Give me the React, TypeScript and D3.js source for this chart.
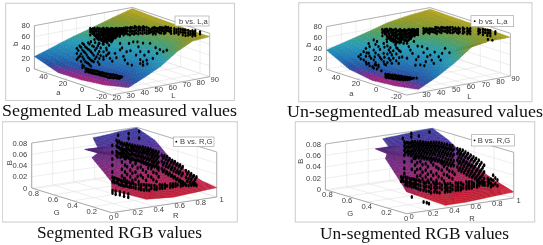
import * as d3 from "d3";

type Cols = [number, number, number[]][];
type Node = [number, number, number];

const labTicksL = [20, 30, 40, 50, 60, 70, 80, 90];
const labTicksA = [-20, 0, 20, 40];
const labTicksB = [0, 20, 40, 60, 80];
const rgbTicksR = [0, 0.2, 0.4, 0.6, 0.8, 1];
const rgbTicksG = [0, 0.2, 0.4, 0.6, 0.8];
const rgbTicksB = [0, 0.02, 0.04, 0.06, 0.08];

const captions = [
  "Segmented Lab measured values",
  "Un-segmentedLab measured values",
  "Segmented RGB values",
  "Un-segmented RGB values",
];

// surface control nodes [L, a, b], back row first
const segLabSurface: Node[][] = [
  [[20, 50, 23], [34, 50, 35], [48, 50, 47], [62, 50, 57], [76, 50, 68], [90, 50, 78]],
  [[23, 30, 4], [36, 30, 25], [49, 30, 38], [63, 30, 50], [76, 30, 62], [90, 30, 76]],
  [[26, 10, 1], [39, 10, 18], [51, 10, 30], [64, 10, 44], [77, 10, 58], [90, 10, 75]],
  [[29, -10, 2], [41, -10, 13], [53, -10, 26], [65, -10, 42], [78, -10, 58], [90, -10, 74]],
  [[32, -30, 8], [44, -30, 22], [55, -30, 36], [67, -30, 58], [78, -30, 72], [90, -30, 74]],
];
const unsegLabSurface: Node[][] = [
  [[20, 50, 36], [34, 50, 46], [48, 50, 56], [62, 50, 67], [76, 50, 73], [90, 50, 77]],
  [[22, 30, 11], [36, 30, 32], [50, 30, 45], [63, 30, 56], [77, 30, 68], [90, 30, 76]],
  [[24, 10, 1], [37, 10, 22], [50, 10, 35], [64, 10, 48], [77, 10, 63], [90, 10, 75]],
  [[26, -10, 2], [39, -10, 16], [51, -10, 30], [64, -10, 46], [77, -10, 63], [90, -10, 74]],
  [[28, -30, 6.5], [40, -30, 23], [52, -30, 43], [64, -30, 68], [77, -30, 73], [90, -30, 72.5]],
];
// surface control nodes [R, G, B]
const segRgbSurface: Node[][] = [
  [[0.56, 0.8, 0.075], [0.71, 0.81, 0.076], [0.85, 0.82, 0.078], [1, 0.825, 0.079]],
  [[0.557, 0.744, 0.06], [0.7, 0.7, 0.063], [0.85, 0.66, 0.066], [1, 0.636, 0.067]],
  [[0.5, 0.82, 0.055], [0.66, 0.7, 0.052], [0.83, 0.57, 0.048], [1, 0.48, 0.043]],
  [[0.571, 0.759, 0.05], [0.71, 0.63, 0.045], [0.85, 0.5, 0.04], [1, 0.38, 0.035]],
  [[0.43, 0.67, 0.05], [0.62, 0.53, 0.04], [0.81, 0.4, 0.032], [1, 0.275, 0.027]],
  [[0.23, 0.25, 0.035], [0.5, 0.2, 0.028], [0.75, 0.16, 0.023], [1, 0.14, 0.02]],
  [[0.231, 0.25, 0.02], [0.33, 0, 0.0145], [0.587, 0, 0.0113], [1, 0, 0.0166]],
];
const unsegRgbSurface: Node[][] = [
  [[0.53, 0.82, 0.075], [0.69, 0.82, 0.077], [0.85, 0.825, 0.079], [1, 0.825, 0.08]],
  [[0.576, 0.806, 0.06], [0.72, 0.76, 0.063], [0.86, 0.71, 0.066], [1, 0.66, 0.0675]],
  [[0.5, 0.86, 0.056], [0.67, 0.72, 0.052], [0.84, 0.57, 0.046], [1, 0.42, 0.039]],
  [[0.544, 0.79, 0.05], [0.69, 0.65, 0.044], [0.85, 0.5, 0.037], [1, 0.33, 0.031]],
  [[0.428, 0.68, 0.05], [0.62, 0.53, 0.04], [0.81, 0.37, 0.03], [1, 0.22, 0.0228]],
  [[0.12, 0.16, 0.035], [0.42, 0.13, 0.027], [0.72, 0.1, 0.02], [1, 0.08, 0.015]],
  [[0.22, 0.24, 0.02], [0.361, 0, 0.0047], [0.548, 0, 0.005], [1, 0, 0.0105]],
];

// measured points as [L, a, [b...]]
const segLabDots: Cols = [
  [53, 40, [65, 59, 53]], [54.5, 40, [61, 55]], [56, 40, [64, 57, 51, 43]], [57.5, 40, [60, 53, 46]],
  [59, 40, [60, 54, 48, 41, 34]], [60.5, 40, [57, 50, 43]], [62, 40, [59, 53, 47, 39, 32]],
  [63.5, 40, [56, 50, 43, 36]], [65, 40, [58, 53, 46, 40, 34]], [66.5, 40, [55, 49, 42]],
  [68, 40, [58, 52, 46, 39, 33]], [69.5, 40, [54, 48, 41]], [71, 40, [56, 52, 45, 39]],
  [72.5, 40, [53, 48, 42]], [74, 40, [55, 51, 46, 40]], [75.5, 40, [52, 47]], [77, 40, [54, 49, 44]],
  [63, 20, [72, 66, 60]], [66, 20, [72, 66.5, 60]], [69, 20, [71, 65, 60]], [72, 20, [70, 65, 59]],
  [75, 20, [68, 63.5, 58]], [78, 20, [67, 62, 57]],
  [74, 10, [73, 68, 64]], [76, 10, [71, 66]], [78, 10, [73, 68, 63]], [80, 10, [70, 65]],
  [82, 10, [71, 66, 61]], [84, 10, [69, 64]], [86, 10, [70, 64, 59]], [88, 10, [68, 62]], [90, 10, [66, 61, 56]],
  [82, -5, [77.5, 73, 69]], [85, -5, [76, 71, 66]], [88, -5, [73, 68, 63]], [90, -5, [71, 66, 61]],
  [85, -15, [79, 74, 70]], [88, -15, [77, 72, 67]], [90, -15, [76, 71, 67]], [90, -20, [77, 73]],
  [40, 35, [37.5, 28, 17]], [42, 35, [41, 22]], [44, 35, [45, 32.5, 20, 5, 0]], [46, 35, [37.5, 26.5, 10]],
  [48, 35, [44, 32, 17, 6]], [50, 35, [45, 26.5, 11, 0]], [52, 35, [35, 19, 7]], [54, 35, [31, 15]],
  [56, 35, [39, 24, 11, 0]],
  [22, 0, [30, 24]], [24, 0, [27.5, 22.5]], [26, 0, [25, 20]], [28, 0, [23, 18]], [30, 0, [21.5, 16]],
  [32, 0, [18.6, 13.7]], [34, 0, [16.5, 11.5]], [36, 0, [14, 9]], [38, 0, [12, 6]], [40, 0, [10, 5]],
  [42, 0, [9, 3]], [44, 0, [7, 2]], [46, 0, [4, 0]], [48, 0, [2]],
  [44, 10, [47.5]], [46.4, 10, [31]], [50, 10, [38.5]], [53.6, 10, [55, 43]], [57, 10, [23]],
  [62, 10, [11]], [66.7, 10, [42.5]], [70, 10, [13, 7, 47.7]], [72.6, 10, [15]], [80, 10, [24]],
  [84.5, 10, [25]], [63, 10, [53.5]], [58.3, 10, [37.5]], [41.7, 10, [36]], [75, 10, [45]], [68, 10, [11]],
  [87, 10, [26.5]],
];
const segLabFill: Cols = [
  [53.4, 40, [63, 60.7]], [54.9, 40, [64, 58]], [55.8, 40, [62, 54]], [56.7, 40, [60.5, 49.5]], [57.2, 40, [58, 48]],
  [58.1, 40, [63, 50.5, 44]], [58.9, 40, [57, 45.5]], [59.6, 40, [61.5, 51, 42]], [60.1, 40, [55, 45]],
  [60.9, 40, [60, 49, 39]], [61.4, 40, [54, 41.5]], [62.3, 40, [61, 50, 44, 36]], [62.8, 40, [56, 48, 37]],
  [63.2, 40, [59, 51, 41]], [64.1, 40, [57, 52, 44, 38]], [64.7, 40, [60, 47, 35]], [65.3, 40, [55, 49, 43, 32]],
  [65.9, 40, [58, 51, 37]], [66.2, 40, [53, 46, 41]], [67.1, 40, [57, 50, 44, 36]], [67.7, 40, [54, 47, 38]],
  [68.4, 40, [56, 49, 42, 34]], [69.1, 40, [57, 51, 44, 37]], [69.8, 40, [52, 46, 39]], [70.4, 40, [55, 49, 43]],
  [71.3, 40, [54, 47, 41]], [71.9, 40, [56, 50, 43]], [72.8, 40, [51, 45]], [73.2, 40, [54, 48]],
  [74.3, 40, [53, 47, 43]], [75.1, 40, [54, 49, 45]], [76.1, 40, [53, 50]], [76.8, 40, [51, 46]],
  [62, 20, [70, 64]], [64.5, 20, [73, 68, 62]], [65, 20, [70, 64]], [67.5, 20, [70, 63.5, 58]], [68, 20, [72, 67]],
  [70.5, 20, [69, 63, 58]], [71, 20, [72, 62]], [73.5, 20, [68, 62, 57]], [74, 20, [70, 65]],
  [76.5, 20, [67, 61, 56]], [77, 20, [69, 64]], [79.5, 20, [66, 60, 55]],
  [75, 10, [70, 65]], [77, 10, [72, 66, 61]], [79, 10, [71, 65, 60]], [81, 10, [69, 63]], [83, 10, [70, 65, 60]],
  [85, 10, [68, 62, 58]], [87, 10, [68, 63]], [89, 10, [65, 60]],
  [83.5, -5, [75, 70]], [86.5, -5, [74, 69]], [89, -5, [72, 67]], [86.5, -15, [76, 71]], [89, -15, [74, 70]],
  [41, 35, [33, 20]], [43, 35, [38, 26, 12]], [45, 35, [42, 29, 15, 2]], [47, 35, [35, 22, 8]],
  [49, 35, [41, 30, 14, 3]], [51, 35, [37, 23, 9]], [53, 35, [42, 28, 12]], [55, 35, [35, 20, 5]],
  [57, 35, [30, 16]], [59, 35, [36, 22, 8]], [61, 35, [28, 14]], [63, 35, [32, 18]],
  [23, 0, [29, 25]], [25, 0, [26, 22]], [27, 0, [24, 19]], [29, 0, [22, 17]], [31, 0, [20, 15]], [33, 0, [17, 12]],
  [35, 0, [15, 10]], [37, 0, [13, 8]], [39, 0, [11, 5]], [41, 0, [9, 4]], [43, 0, [7, 3]], [45, 0, [5, 1]], [47, 0, [3, 1]],
  [48, 10, [25]], [51, 10, [30]], [55, 10, [46]], [59, 10, [15]], [61, 10, [38]], [65, 10, [28]], [68, 10, [18, 33]],
  [71, 10, [25]], [74, 10, [30]], [77, 10, [16]], [79, 10, [35]], [82, 10, [30]], [60, 10, [52]], [56, 10, [30]],
  [45, 10, [40]], [66, 10, [52]], [73, 10, [8]],
];
const unsegLabDots: Cols = [
  [51, 40, [65, 59, 53]], [52.5, 40, [62, 56]], [54, 40, [64, 58, 51, 45]], [55.5, 40, [61, 54, 48]],
  [57, 40, [62, 56, 48, 41]], [58.5, 40, [59, 52, 45, 38]], [60, 40, [61, 54, 47, 39, 33]],
  [61.5, 40, [57, 50, 43, 36]], [63, 40, [59, 52, 44, 37]], [64.5, 40, [55, 48, 41]],
  [66, 40, [57, 51, 44, 36]], [67.5, 40, [54, 48, 41, 35]], [69, 40, [56, 50, 44, 37]],
  [70.5, 40, [53, 47, 41]], [72, 40, [54, 49, 43]], [73.5, 40, [52, 46]], [75, 40, [53, 48, 43]],
  [72, 30, [62.5, 57.5, 53]], [74, 30, [61, 56]], [76, 30, [60, 56, 51]], [78, 30, [58, 53]],
  [80, 30, [60, 55, 50]], [82, 30, [58, 52]], [84, 30, [58, 53, 48]], [86, 30, [56, 50]],
  [88, 30, [56, 51, 46]], [90, 30, [55, 50, 45]],
  [78, 10, [73, 68, 63]], [80, 10, [71, 66]], [82, 10, [70, 65, 60]], [85, 10, [68.5, 63.5, 58.5]],
  [88, 10, [66, 61, 56]], [90, 10, [65, 60, 55]],
  [82, -10, [80, 76, 71]], [85, -10, [78, 73, 68]], [88, -10, [75, 70, 65]], [90, -10, [73, 68, 63]],
  [90, -15, [74, 70]], [85, -15, [62]], [88, -15, [59]],
  [31.6, 35, [27]], [35, 35, [34.5, 19]], [38.4, 35, [48, 30, 11]], [41.8, 35, [53, 34, 15.4, 0]],
  [45, 35, [39, 23, 4.4, 1]], [48.5, 35, [43, 24.5, 9]], [52, 35, [29, 13.4]], [44, 35, [49]],
  [50.7, 35, [45]], [40, 35, [19.4]], [43.4, 35, [5]], [47, 35, [14]], [50, 35, [2]], [54, 35, [3, 18.6]],
  [24, 10, [27]], [27, 10, [21]], [30, 10, [16]],
  [26, 0, [18, 13]], [27.5, 0, [17, 12]], [29, 0, [15, 10]], [30.5, 0, [14, 8]], [32, 0, [13, 6.5]],
  [33.5, 0, [11, 5]], [35, 0, [10, 4]], [36.5, 0, [9, 3]], [38, 0, [7, 1]], [39.5, 0, [6, 1]],
  [41, 0, [4.4, 0]], [42.5, 0, [3, 0]], [44, 0, [1]], [47, 0, [0]],
  [39.5, 10, [60]], [43, 10, [45.5]], [45, 10, [60]], [47.3, 10, [31, 59]], [49.6, 10, [45]], [52, 10, [60]],
  [55, 10, [30]], [57.5, 10, [47.5]], [60, 10, [18]], [63, 10, [29]], [65.4, 10, [12]], [68.7, 10, [23]],
  [73, 10, [36.5]], [53, 10, [15]], [56.3, 10, [14]], [41.7, 10, [24]],
];
const unsegLabFill: Cols = [
  [51.4, 40, [63, 60.5]], [52.9, 40, [64, 58]], [53.8, 40, [62, 54]], [54.7, 40, [60.5, 49]], [55.2, 40, [58, 47]],
  [56.1, 40, [63, 50.5, 44]], [56.9, 40, [57, 44.5]], [57.6, 40, [60.5, 51, 42]], [58.1, 40, [55, 43]],
  [58.9, 40, [60, 49, 39]], [59.4, 40, [54, 41.5]], [60.3, 40, [59, 50, 44, 36]], [60.8, 40, [56, 48, 37]],
  [62.2, 40, [58, 51, 41]], [62.7, 40, [55, 47, 38, 34]], [63.6, 40, [57, 49, 42, 35]], [64.1, 40, [53, 45, 39]],
  [65.2, 40, [56, 49, 43]], [65.8, 40, [53, 46, 38]], [66.7, 40, [55, 49, 43, 37]], [67.1, 40, [52, 46]],
  [68.2, 40, [55, 48, 42, 35]], [69.7, 40, [54, 47, 41]], [70.2, 40, [51, 44, 38]], [71.1, 40, [55, 49, 42]],
  [71.8, 40, [52, 46]], [72.7, 40, [53, 47, 42]], [73.2, 40, [50, 44]], [74.3, 40, [53, 48, 44]], [74.9, 40, [50, 46]],
  [73, 30, [60, 55]], [75, 30, [58, 53]], [77, 30, [59, 54]], [79, 30, [57, 52]], [81, 30, [59, 53, 48]],
  [83, 30, [56, 50]], [85, 30, [57, 51]], [87, 30, [55, 49]], [89, 30, [54, 48]],
  [79, 10, [70, 64]], [81, 10, [68, 62]], [83, 10, [68, 62]], [86, 10, [66, 60]], [89, 10, [63, 58]],
  [83, -10, [78, 73]], [86.5, -10, [76, 71]], [89, -10, [74, 69]],
  [33, 35, [30, 22]], [36.5, 35, [40, 25, 14]], [39, 35, [42, 24, 6]], [43, 35, [44, 28, 10]], [46, 35, [33, 18]],
  [49, 35, [36, 17, 4]], [51, 35, [37, 22, 6]], [53, 35, [33, 24, 9]], [55, 35, [26, 12]], [57, 35, [31, 19, 6]],
  [59, 35, [24, 11]], [37, 35, [31, 10]], [42.5, 35, [21, 6]],
  [26.7, 0, [16, 11]], [28.2, 0, [16, 10]], [29.8, 0, [13, 9]], [31.2, 0, [12, 7]], [32.8, 0, [12, 7]], [34.2, 0, [9, 5]],
  [35.7, 0, [8, 3]], [37.2, 0, [7, 3]], [38.8, 0, [5, 2]], [40.2, 0, [4, 1]], [41.8, 0, [3, 1]], [43.2, 0, [2, 1]],
  [45, 0, [1]],
  [41, 10, [52]], [44, 10, [35]], [48.5, 10, [52]], [51, 10, [38]], [53.5, 10, [25]], [54.5, 10, [50]], [58.5, 10, [36]],
  [61, 10, [27, 42]], [64, 10, [19]], [66, 10, [33]], [70, 10, [16]], [71, 10, [28]], [76, 10, [27]], [59, 10, [11]],
];
// measured points as [R, G, [B...]]
const segRgbDots: Cols = [
  [0.56, 0.6, [0.072, 0.06, 0.048, 0.0366, 0.0247]],
  [0.6, 0.6, [0.08, 0.07, 0.06, 0.053]], [0.625, 0.6, [0.077, 0.066, 0.056]],
  [0.65, 0.6, [0.074, 0.065, 0.058, 0.052]], [0.675, 0.6, [0.072, 0.061, 0.054, 0.047]],
  [0.7, 0.6, [0.071, 0.063, 0.056, 0.048]], [0.725, 0.6, [0.069, 0.059, 0.051, 0.044]],
  [0.75, 0.6, [0.067, 0.06, 0.053, 0.043]], [0.775, 0.6, [0.065, 0.057, 0.049, 0.04]],
  [0.8, 0.6, [0.064, 0.056, 0.048, 0.04]], [0.825, 0.6, [0.062, 0.054, 0.045, 0.037]],
  [0.85, 0.6, [0.061, 0.053, 0.045, 0.036]], [0.875, 0.6, [0.059, 0.051, 0.042, 0.033]],
  [0.9, 0.6, [0.057, 0.05, 0.04, 0.03]], [0.925, 0.6, [0.055, 0.047, 0.038, 0.028]],
  [0.95, 0.6, [0.052, 0.045, 0.036, 0.026]], [0.975, 0.6, [0.05, 0.042, 0.033, 0.024]],
  [1, 0.6, [0.048, 0.04, 0.03, 0.021]],
  [0.8, 0.35, [0.061, 0.05, 0.037]], [0.825, 0.35, [0.059, 0.047, 0.034]], [0.85, 0.35, [0.057, 0.045, 0.03]],
  [0.875, 0.35, [0.053, 0.041, 0.027]], [0.9, 0.35, [0.049, 0.037, 0.0225]], [0.925, 0.35, [0.046, 0.034, 0.019]],
  [0.95, 0.35, [0.042, 0.03, 0.015]], [0.975, 0.35, [0.039, 0.027, 0.012]], [1, 0.35, [0.035, 0.023, 0.008]],
  [0.8, 0.1, [0.047, 0.035, 0.021]], [0.825, 0.1, [0.044, 0.032, 0.02]], [0.85, 0.1, [0.04, 0.03, 0.0196]],
  [0.875, 0.1, [0.036, 0.025, 0.019]], [0.9, 0.1, [0.033, 0.018]],
  [0.1, 0.1, [0.055, 0.047, 0.031, 0.0267]], [0.12, 0.1, [0.053, 0.045]], [0.14, 0.1, [0.051, 0.044]],
  [0.13, 0.1, [0.029, 0.024]], [0.16, 0.1, [0.049, 0.041]], [0.18, 0.1, [0.047, 0.039]],
  [0.17, 0.1, [0.0267, 0.022]], [0.2, 0.1, [0.045, 0.037]], [0.22, 0.1, [0.043, 0.036]],
  [0.21, 0.1, [0.024, 0.018]], [0.24, 0.1, [0.042, 0.035]], [0.26, 0.1, [0.041, 0.033]], [0.25, 0.1, [0.021, 0.015]],
  [0.28, 0.1, [0.039, 0.032]], [0.3, 0.1, [0.038, 0.031]], [0.35, 0.1, [0.0347, 0.0276]], [0.375, 0.1, [0.034, 0.026]],
  [0.4, 0.1, [0.033, 0.024]], [0.425, 0.1, [0.032, 0.023]], [0.45, 0.1, [0.031, 0.022]], [0.5, 0.1, [0.029, 0.023]],
  [0.55, 0.1, [0.029, 0.023]], [0.575, 0.1, [0.028, 0.022]], [0.6, 0.1, [0.028, 0.0225]], [0.65, 0.1, [0.027, 0.022]],
  [0.675, 0.1, [0.027, 0.022]], [0.7, 0.1, [0.0267, 0.022]], [0.75, 0.1, [0.0265, 0.021]],
  [0.45, 0.35, [0.065, 0.053, 0.041, 0.029]], [0.5, 0.35, [0.0575, 0.043, 0.031]], [0.55, 0.35, [0.053, 0.038, 0.025]],
  [0.6, 0.35, [0.046, 0.031]], [0.65, 0.35, [0.05, 0.0356, 0.021]], [0.7, 0.35, [0.04, 0.025]],
  [0.75, 0.35, [0.0447, 0.03, 0.016]],
  [0.8, 0.8, [0.0727]], [0.9, 0.8, [0.073, 0.064]], [1, 0.8, [0.074, 0.062]],
];
const segRgbFill: Cols = [
  [0.61, 0.6, [0.075, 0.068, 0.058, 0.05]], [0.638, 0.6, [0.073, 0.063, 0.055, 0.049]],
  [0.662, 0.6, [0.07, 0.062, 0.056, 0.05]], [0.688, 0.6, [0.068, 0.06, 0.052, 0.045]],
  [0.712, 0.6, [0.067, 0.061, 0.053, 0.046]], [0.738, 0.6, [0.064, 0.057, 0.05, 0.041]],
  [0.762, 0.6, [0.063, 0.058, 0.05, 0.042]], [0.788, 0.6, [0.061, 0.054, 0.046, 0.038]],
  [0.812, 0.6, [0.06, 0.052, 0.046, 0.038]], [0.838, 0.6, [0.058, 0.05, 0.042, 0.034]],
  [0.862, 0.6, [0.056, 0.05, 0.041, 0.032]], [0.888, 0.6, [0.054, 0.047, 0.038, 0.03]],
  [0.912, 0.6, [0.053, 0.045, 0.036, 0.027]], [0.938, 0.6, [0.05, 0.042, 0.033, 0.024]],
  [0.962, 0.6, [0.048, 0.04, 0.031, 0.023]], [0.988, 0.6, [0.045, 0.037, 0.028, 0.02]],
  [0.812, 0.35, [0.056, 0.044, 0.032]], [0.838, 0.35, [0.053, 0.04, 0.028]], [0.862, 0.35, [0.05, 0.038, 0.025]],
  [0.888, 0.35, [0.046, 0.034, 0.022]], [0.912, 0.35, [0.043, 0.03, 0.018]], [0.938, 0.35, [0.04, 0.027, 0.014]],
  [0.962, 0.35, [0.036, 0.024, 0.011]], [0.988, 0.35, [0.033, 0.02, 0.009]],
  [0.812, 0.1, [0.041, 0.028]], [0.838, 0.1, [0.037, 0.025]], [0.862, 0.1, [0.034, 0.023]], [0.888, 0.1, [0.029, 0.021]],
  [0.11, 0.1, [0.05]], [0.15, 0.1, [0.047]], [0.19, 0.1, [0.043]], [0.23, 0.1, [0.04]], [0.27, 0.1, [0.037]],
  [0.32, 0.1, [0.035, 0.029]], [0.37, 0.1, [0.031, 0.0255]], [0.42, 0.1, [0.028]], [0.47, 0.1, [0.03, 0.025]],
  [0.52, 0.1, [0.026, 0.022]], [0.57, 0.1, [0.026]], [0.62, 0.1, [0.025]], [0.67, 0.1, [0.0245]], [0.72, 0.1, [0.024]],
  [0.77, 0.1, [0.025, 0.022]], [0.79, 0.1, [0.024]],
  [0.42, 0.35, [0.06, 0.047, 0.035]], [0.47, 0.35, [0.05, 0.036, 0.024]], [0.52, 0.35, [0.063, 0.05, 0.037, 0.024]],
  [0.57, 0.35, [0.045, 0.03]], [0.62, 0.35, [0.055, 0.04, 0.026]], [0.67, 0.35, [0.042, 0.028]],
  [0.72, 0.35, [0.05, 0.033, 0.02]], [0.77, 0.35, [0.036, 0.024]], [0.44, 0.35, [0.03]], [0.58, 0.35, [0.02]],
];
const unsegRgbDots: Cols = [
  [0.53, 0.6, [0.0806, 0.0736, 0.066, 0.0572, 0.0456, 0.0339, 0.0251]], [0.555, 0.6, [0.079, 0.071, 0.063]],
  [0.58, 0.6, [0.0763, 0.0688, 0.0606]], [0.605, 0.6, [0.079, 0.072, 0.064, 0.056]],
  [0.63, 0.6, [0.078, 0.071, 0.0633, 0.0546]], [0.655, 0.6, [0.077, 0.07, 0.062, 0.053]],
  [0.68, 0.6, [0.0765, 0.0695, 0.062, 0.0532]], [0.705, 0.6, [0.075, 0.068, 0.06, 0.05]],
  [0.73, 0.6, [0.074, 0.067, 0.0588, 0.0489]], [0.755, 0.6, [0.073, 0.066, 0.057, 0.047]],
  [0.78, 0.6, [0.0726, 0.065, 0.0563, 0.0457]], [0.805, 0.6, [0.072, 0.064, 0.055, 0.044]],
  [0.83, 0.6, [0.0713, 0.0637, 0.0549, 0.0432]], [0.855, 0.6, [0.07, 0.062, 0.052, 0.041]],
  [0.88, 0.6, [0.068, 0.0605, 0.0506, 0.0389]], [0.905, 0.6, [0.066, 0.058, 0.048, 0.036]],
  [0.93, 0.6, [0.065, 0.0568, 0.0463, 0.0346]], [0.955, 0.6, [0.063, 0.055, 0.044, 0.032]],
  [0.98, 0.6, [0.0613, 0.0532, 0.042, 0.0304]],
  [0.75, 0.3, [0.078, 0.0693, 0.0577, 0.046]], [0.775, 0.3, [0.076, 0.067, 0.055, 0.043]],
  [0.8, 0.3, [0.0736, 0.0648, 0.0532, 0.0415]], [0.825, 0.3, [0.07, 0.061, 0.05, 0.038]],
  [0.85, 0.3, [0.0666, 0.0578, 0.0461, 0.0345]], [0.875, 0.3, [0.063, 0.054, 0.043, 0.031]],
  [0.9, 0.3, [0.0594, 0.0506, 0.039, 0.0273]], [0.925, 0.3, [0.056, 0.046, 0.034, 0.023]],
  [0.95, 0.3, [0.052, 0.0403, 0.0286, 0.0187]], [0.975, 0.3, [0.047, 0.035, 0.023, 0.014]],
  [1, 0.3, [0.042, 0.0304, 0.0187, 0.0099]],
  [0.9, 0.1, [0.0374, 0.0286, 0.0199]], [0.85, 0.1, [0.033, 0.027, 0.021]],
  [0.04, 0.1, [0.058, 0.0505]], [0.06, 0.1, [0.057, 0.05]], [0.08, 0.1, [0.057, 0.049, 0.0435]],
  [0.1, 0.1, [0.055, 0.047, 0.041]], [0.12, 0.1, [0.053, 0.046, 0.04]], [0.14, 0.1, [0.052, 0.044, 0.038]],
  [0.16, 0.1, [0.0507, 0.043, 0.0373]], [0.18, 0.1, [0.049, 0.042, 0.035]], [0.2, 0.1, [0.048, 0.0403, 0.0333]],
  [0.25, 0.1, [0.0435, 0.0365, 0.029]], [0.275, 0.1, [0.042, 0.035, 0.027]], [0.3, 0.1, [0.041, 0.0334, 0.0258]],
  [0.35, 0.1, [0.038, 0.031, 0.0234]], [0.375, 0.1, [0.037, 0.03, 0.022]], [0.4, 0.1, [0.0365, 0.0295, 0.0207]],
  [0.45, 0.1, [0.035, 0.028, 0.0205]], [0.475, 0.1, [0.034, 0.027, 0.0205]], [0.5, 0.1, [0.0338, 0.0268, 0.0203]],
  [0.55, 0.1, [0.0335, 0.0265, 0.0207]], [0.575, 0.1, [0.033, 0.026, 0.0205]], [0.6, 0.1, [0.0321, 0.0251, 0.0204]],
  [0.65, 0.1, [0.0325, 0.0255, 0.0209]], [0.675, 0.1, [0.032, 0.025, 0.021]], [0.7, 0.1, [0.0312, 0.0254, 0.0207]],
  [0.75, 0.1, [0.031, 0.0251, 0.021]], [0.8, 0.1, [0.0296, 0.0238]],
  [0.4, 0.35, [0.0676, 0.056, 0.0442]], [0.45, 0.35, [0.0613, 0.0485, 0.0368]], [0.5, 0.35, [0.056, 0.0444, 0.0327]],
  [0.55, 0.35, [0.0576, 0.04, 0.0272]], [0.6, 0.35, [0.0473, 0.0356, 0.024]], [0.65, 0.35, [0.052, 0.0403, 0.0257]],
  [0.7, 0.35, [0.0418, 0.0301]], [0.75, 0.35, [0.0345, 0.0228]],
  [0.78, 0.8, [0.078, 0.0722]], [0.85, 0.8, [0.0721]], [0.95, 0.8, [0.0763]], [0.7, 0.8, [0.0716]],
  [0.14, 0.1, [0.0203]], [0.25, 0.1, [0.0085]], [0.3, 0.1, [0.0041]], [0.28, 0.1, [0.0064]],
];
const unsegRgbFill: Cols = [
  [0.54, 0.6, [0.077, 0.069, 0.061]], [0.567, 0.6, [0.078, 0.072, 0.065, 0.057]], [0.592, 0.6, [0.077, 0.07, 0.062, 0.055]],
  [0.617, 0.6, [0.075, 0.068, 0.059, 0.05]], [0.642, 0.6, [0.074, 0.067, 0.058, 0.05]], [0.667, 0.6, [0.073, 0.066, 0.058, 0.049]],
  [0.692, 0.6, [0.072, 0.064, 0.056, 0.048]], [0.717, 0.6, [0.071, 0.063, 0.055, 0.046]], [0.742, 0.6, [0.07, 0.063, 0.054, 0.045]],
  [0.767, 0.6, [0.069, 0.061, 0.052, 0.043]], [0.792, 0.6, [0.068, 0.06, 0.051, 0.042]], [0.817, 0.6, [0.067, 0.06, 0.05, 0.04]],
  [0.842, 0.6, [0.066, 0.058, 0.048, 0.038]], [0.867, 0.6, [0.064, 0.056, 0.046, 0.036]], [0.892, 0.6, [0.062, 0.054, 0.044, 0.034]],
  [0.917, 0.6, [0.06, 0.052, 0.041, 0.031]], [0.942, 0.6, [0.058, 0.05, 0.039, 0.029]], [0.967, 0.6, [0.057, 0.048, 0.037, 0.027]],
  [0.992, 0.6, [0.055, 0.046, 0.035, 0.026]],
  [0.762, 0.3, [0.073, 0.062, 0.052, 0.04]], [0.787, 0.3, [0.07, 0.06, 0.049, 0.037]], [0.812, 0.3, [0.067, 0.056, 0.046, 0.034]],
  [0.837, 0.3, [0.064, 0.052, 0.042, 0.03]], [0.862, 0.3, [0.06, 0.048, 0.038, 0.027]], [0.887, 0.3, [0.056, 0.045, 0.034, 0.024]],
  [0.912, 0.3, [0.053, 0.042, 0.03, 0.021]], [0.937, 0.3, [0.048, 0.036, 0.025, 0.017]], [0.962, 0.3, [0.044, 0.032, 0.021, 0.012]],
  [0.987, 0.3, [0.038, 0.026, 0.015]],
  [0.86, 0.1, [0.03, 0.024]], [0.88, 0.1, [0.031, 0.024, 0.018]], [0.92, 0.1, [0.032, 0.022]], [0.94, 0.1, [0.028, 0.018]],
  [0.05, 0.1, [0.054]], [0.09, 0.1, [0.052, 0.045]], [0.13, 0.1, [0.049, 0.042]], [0.17, 0.1, [0.046, 0.04]],
  [0.22, 0.1, [0.045, 0.038, 0.031]], [0.26, 0.1, [0.04, 0.033]], [0.32, 0.1, [0.036, 0.03, 0.023]], [0.36, 0.1, [0.035, 0.027]],
  [0.42, 0.1, [0.033, 0.026]], [0.46, 0.1, [0.032, 0.024]], [0.52, 0.1, [0.03, 0.023]], [0.57, 0.1, [0.03, 0.023]],
  [0.62, 0.1, [0.029, 0.023]], [0.67, 0.1, [0.028, 0.023]], [0.72, 0.1, [0.028, 0.023]], [0.77, 0.1, [0.028, 0.023]],
  [0.82, 0.1, [0.027, 0.022]],
  [0.37, 0.35, [0.064, 0.05]], [0.42, 0.35, [0.06, 0.048, 0.036]], [0.47, 0.35, [0.055, 0.042, 0.03]], [0.52, 0.35, [0.05, 0.037, 0.026]],
  [0.57, 0.35, [0.052, 0.034, 0.022]], [0.62, 0.35, [0.044, 0.03]], [0.67, 0.35, [0.047, 0.033, 0.021]], [0.72, 0.35, [0.037, 0.026]],
  [0.77, 0.35, [0.03]], [0.44, 0.35, [0.028]], [0.6, 0.35, [0.02]],
];

const labColor = d3
  .scaleLinear<string>()
  .domain([0, 6, 14, 26, 42, 54, 66, 78])
  .range(["#c41c6e", "#862a8f", "#2450a6", "#1f78b8", "#26a0b8", "#4ba26c", "#8a9c2c", "#b8a41a"]);
const rgbColor = d3
  .scaleLinear<string>()
  .domain([0, 0.015, 0.03, 0.045, 0.06, 0.08])
  .range(["#d8212a", "#c8203a", "#a82560", "#7a2c86", "#55349a", "#3b3fa8"]);

const panels = [
  {
    caption: captions[0], capX: 2, capW: 235, capY: 116,
    frame: [5.7, 3.3, 228.8, 97.2],
    front: [111.7, 95], u: [98, -18.3], v: [-77.3, -26], w: -43.3,
    uDom: [20, 90], vDom: [-30, 50], wDom: [0, 80],
    uTicks: labTicksL, vTicks: labTicksA, wTicks: labTicksB,
    uNames: ["L", 173.3, 95], vName: ["a", 58.3, 92.7], wName: ["b", 16, 44],
    legend: "b vs. L,a", legendBox: [175, 16, 34, 10], legendText: 179, legendDot: null,
    surface: segLabSurface, dots: [...segLabDots, ...segLabFill], color: labColor, dotRx: 1.2, dotRy: 1.6,
  },
  {
    caption: captions[1], capX: 287, capW: 256, capY: 117,
    frame: [298.7, 2.7, 233.3, 99],
    front: [406.7, 95], u: [103.7, -19], v: [-80.3, -25.7], w: -42.7,
    uDom: [20, 90], vDom: [-30, 50], wDom: [0, 80],
    uTicks: labTicksL.slice(1), vTicks: labTicksA, wTicks: labTicksB,
    uNames: ["L", 469.3, 96], vName: ["a", 351.3, 93.3], wName: ["b", 308.7, 45],
    legend: "b vs. L,a", legendBox: [471, 15.7, 42.7, 11], legendText: 478.7, legendDot: 474.7,
    surface: unsegLabSurface, dots: [...unsegLabDots, ...unsegLabFill], color: labColor, dotRx: 1.2, dotRy: 1.6,
  },
  {
    caption: captions[2], capX: 37, capW: 165, capY: 238,
    frame: [2.3, 121.7, 235, 100.3],
    front: [111.7, 212.7], u: [105, -15.7], v: [-80, -24.7], w: -45,
    uDom: [0, 1], vDom: [0, 0.825], wDom: [0, 0.08],
    uTicks: rgbTicksR, vTicks: rgbTicksG, wTicks: rgbTicksB,
    uNames: ["R", 175.7, 215.3], vName: ["G", 56.7, 212], wName: ["B", 10, 162.7],
    legend: "B vs. R,G", legendBox: [173.3, 137, 40.7, 9.3], legendText: 180, legendDot: 176.3,
    surface: segRgbSurface, dots: [...segRgbDots, ...segRgbFill], color: rgbColor, dotRx: 1.25, dotRy: 2,
  },
  {
    caption: captions[3], capX: 320, capW: 189, capY: 239,
    frame: [295.3, 121.7, 239.4, 100.3],
    front: [406.7, 213.7], u: [107, -15.7], v: [-81.3, -24], w: -45.7,
    uDom: [0, 1], vDom: [0, 0.825], wDom: [0, 0.08],
    uTicks: rgbTicksR, vTicks: rgbTicksG, wTicks: rgbTicksB,
    uNames: ["R", 472, 218], vName: ["G", 350.3, 213.7], wName: ["B", 300.3, 161.3],
    legend: "B vs. R,G", legendBox: [471.3, 134.7, 43, 11.3], legendText: 477.7, legendDot: 474.5,
    surface: unsegRgbSurface, dots: [...unsegRgbDots, ...unsegRgbFill], color: rgbColor, dotRx: 1.25, dotRy: 2,
  },
];

const lerp = (p: Node, q: Node, t: number): Node => [
  p[0] + (q[0] - p[0]) * t,
  p[1] + (q[1] - p[1]) * t,
  p[2] + (q[2] - p[2]) * t,
];

function Panel({ spec }: { spec: any }) {
  const ux = d3.scaleLinear().domain(spec.uDom).range([0, spec.u[0]]);
  const uy = d3.scaleLinear().domain(spec.uDom).range([0, spec.u[1]]);
  const vx = d3.scaleLinear().domain(spec.vDom).range([0, spec.v[0]]);
  const vy = d3.scaleLinear().domain(spec.vDom).range([0, spec.v[1]]);
  const wy = d3.scaleLinear().domain(spec.wDom).range([0, spec.w]);
  const proj = (a: number, b: number, c: number): [number, number] => [
    spec.front[0] + ux(a) + vx(b),
    spec.front[1] + uy(a) + vy(b) + wy(c),
  ];
  const [u0, u1] = spec.uDom;
  const [v0, v1] = spec.vDom;
  const [w0, w1] = spec.wDom;
  const line = d3.line();
  const seg = (pts: [number, number, number][]) => line(pts.map((p) => proj(p[0], p[1], p[2]))) as string;

  const grid: string[] = [];
  spec.uTicks.forEach((t: number) => {
    grid.push(seg([[t, v0, w0], [t, v1, w0], [t, v1, w1]]));
  });
  spec.vTicks.forEach((t: number) => {
    grid.push(seg([[u0, t, w0], [u1, t, w0], [u1, t, w1]]));
  });
  spec.wTicks.forEach((t: number) => {
    grid.push(seg([[u0, v1, t], [u1, v1, t], [u1, v0, t]]));
  });

  // fine strips of the surface, back to front
  const stripsPerRow = 8;
  const stripsPerCol = 4;
  const quads: { d: string; fill: string }[] = [];
  const rowLines: string[] = [];
  const mesh: Node[][] = spec.surface;
  for (let r = 0; r < mesh.length - 1; r++) {
    for (let s = 0; s < stripsPerRow; s++) {
      const t0 = s / stripsPerRow;
      const t1 = (s + 1) / stripsPerRow;
      const rowPts: [number, number][] = [];
      for (let c = mesh[r].length - 2; c >= 0; c--) {
        for (let k = stripsPerCol - 1; k >= 0; k--) {
          const k0 = k / stripsPerCol;
          const k1 = (k + 1) / stripsPerCol;
          const a = lerp(lerp(mesh[r][c], mesh[r][c + 1], k0), lerp(mesh[r + 1][c], mesh[r + 1][c + 1], k0), t0);
          const b = lerp(lerp(mesh[r][c], mesh[r][c + 1], k1), lerp(mesh[r + 1][c], mesh[r + 1][c + 1], k1), t0);
          const e = lerp(lerp(mesh[r][c], mesh[r][c + 1], k1), lerp(mesh[r + 1][c], mesh[r + 1][c + 1], k1), t1);
          const f = lerp(lerp(mesh[r][c], mesh[r][c + 1], k0), lerp(mesh[r + 1][c], mesh[r + 1][c + 1], k0), t1);
          const avg = (a[2] + b[2] + e[2] + f[2]) / 4;
          quads.push({ d: seg([a, b, e, f]) + "Z", fill: spec.color(avg) });
          rowPts.push(proj(f[0], f[1], f[2]));
        }
      }
      rowLines.push(line(rowPts) as string);
    }
  }

  const dots = (spec.dots as Cols).flatMap(([a, b, cs]) => cs.map((c) => proj(a, b, c)));
  const labelStyle = { fontFamily: "'Liberation Sans', sans-serif", fontSize: 7.6, fill: "#3c3c3c" };
  const fmt = (t: number) => String(t);

  return (
    <g>
      <rect
        x={spec.frame[0]} y={spec.frame[1]} width={spec.frame[2]} height={spec.frame[3]}
        fill="#fff" stroke="#cfcfcf" strokeWidth={1.1}
      />
      {grid.map((d, i) => (
        <path key={i} d={d} fill="none" stroke="#e2e2e2" strokeWidth={0.6} />
      ))}
      <path
        d={seg([[u0, v1, w1], [u1, v1, w1], [u1, v0, w1], [u1, v0, w0]])}
        fill="none" stroke="#9a9a9a" strokeWidth={0.7}
      />
      <path
        d={seg([[u0, v1, w1], [u0, v1, w0], [u0, v0, w0], [u1, v0, w0]])}
        fill="none" stroke="#8a8a8a" strokeWidth={0.7}
      />
      {quads.map((q, i) => (
        <path key={i} d={q.d} fill={q.fill} stroke={q.fill} strokeWidth={0.4} />
      ))}
      {rowLines.map((d, i) => (
        <path key={i} d={d} fill="none" stroke="#000" strokeOpacity={0.2} strokeWidth={0.4} />
      ))}
      {dots.map((p, i) => (
        <ellipse key={i} cx={p[0]} cy={p[1]} rx={spec.dotRx} ry={spec.dotRy} fill="#050505" />
      ))}
      {spec.uTicks.map((t: number) => {
        const p = proj(t, v0, w0);
        return (
          <text key={t} x={p[0] + 5} y={p[1] + 5.2} textAnchor="middle" style={labelStyle}>{fmt(t)}</text>
        );
      })}
      {spec.vTicks.map((t: number) => {
        const p = proj(u0, t, w0);
        return (
          <text key={t} x={p[0] - 0.5} y={p[1] + 7} textAnchor="middle" style={labelStyle}>{fmt(t)}</text>
        );
      })}
      {spec.wTicks.map((t: number) => {
        const p = proj(u0, v1, t);
        return (
          <text key={t} x={p[0] - 4.5} y={p[1] + 2.6} textAnchor="end" style={labelStyle}>{fmt(t)}</text>
        );
      })}
      <text x={spec.uNames[1]} y={spec.uNames[2] + 2.6} textAnchor="middle" style={labelStyle}>{spec.uNames[0]}</text>
      <text x={spec.vName[1]} y={spec.vName[2] + 2.6} textAnchor="middle" style={labelStyle}>{spec.vName[0]}</text>
      <text
        transform={`translate(${spec.wName[1] + 2.4},${spec.wName[2]}) rotate(-90)`}
        textAnchor="middle" style={labelStyle}
      >
        {spec.wName[0]}
      </text>
      <rect
        x={spec.legendBox[0]} y={spec.legendBox[1]} width={spec.legendBox[2]} height={spec.legendBox[3]}
        fill="#fff" stroke="#9c9c9c" strokeWidth={0.6}
      />
      {spec.legendDot !== null && (
        <circle cx={spec.legendDot} cy={spec.legendBox[1] + spec.legendBox[3] / 2} r={0.9} fill="#000" />
      )}
      <text x={spec.legendText} y={spec.legendBox[1] + spec.legendBox[3] / 2 + 2.6} style={labelStyle}>{spec.legend}</text>
      <text
        x={spec.capX} y={spec.capY} textLength={spec.capW} lengthAdjust="spacingAndGlyphs"
        style={{ fontFamily: "'Liberation Serif', serif", fontSize: 16.5, fill: "#111" }}
      >
        {spec.caption}
      </text>
    </g>
  );
}

export default function App() {
  return (
    <svg
      width={543}
      height={245}
      viewBox="0 0 543 245"
      style={{ position: "absolute", left: 0, top: 0, background: "#fff" }}
    >
      <defs>
        <filter id="soft" x="0" y="0" width="100%" height="100%">
          <feGaussianBlur stdDeviation={0.35} />
        </filter>
      </defs>
      <g filter="url(#soft)">
        {panels.map((p) => (
          <Panel key={p.caption} spec={p} />
        ))}
      </g>
    </svg>
  );
}
